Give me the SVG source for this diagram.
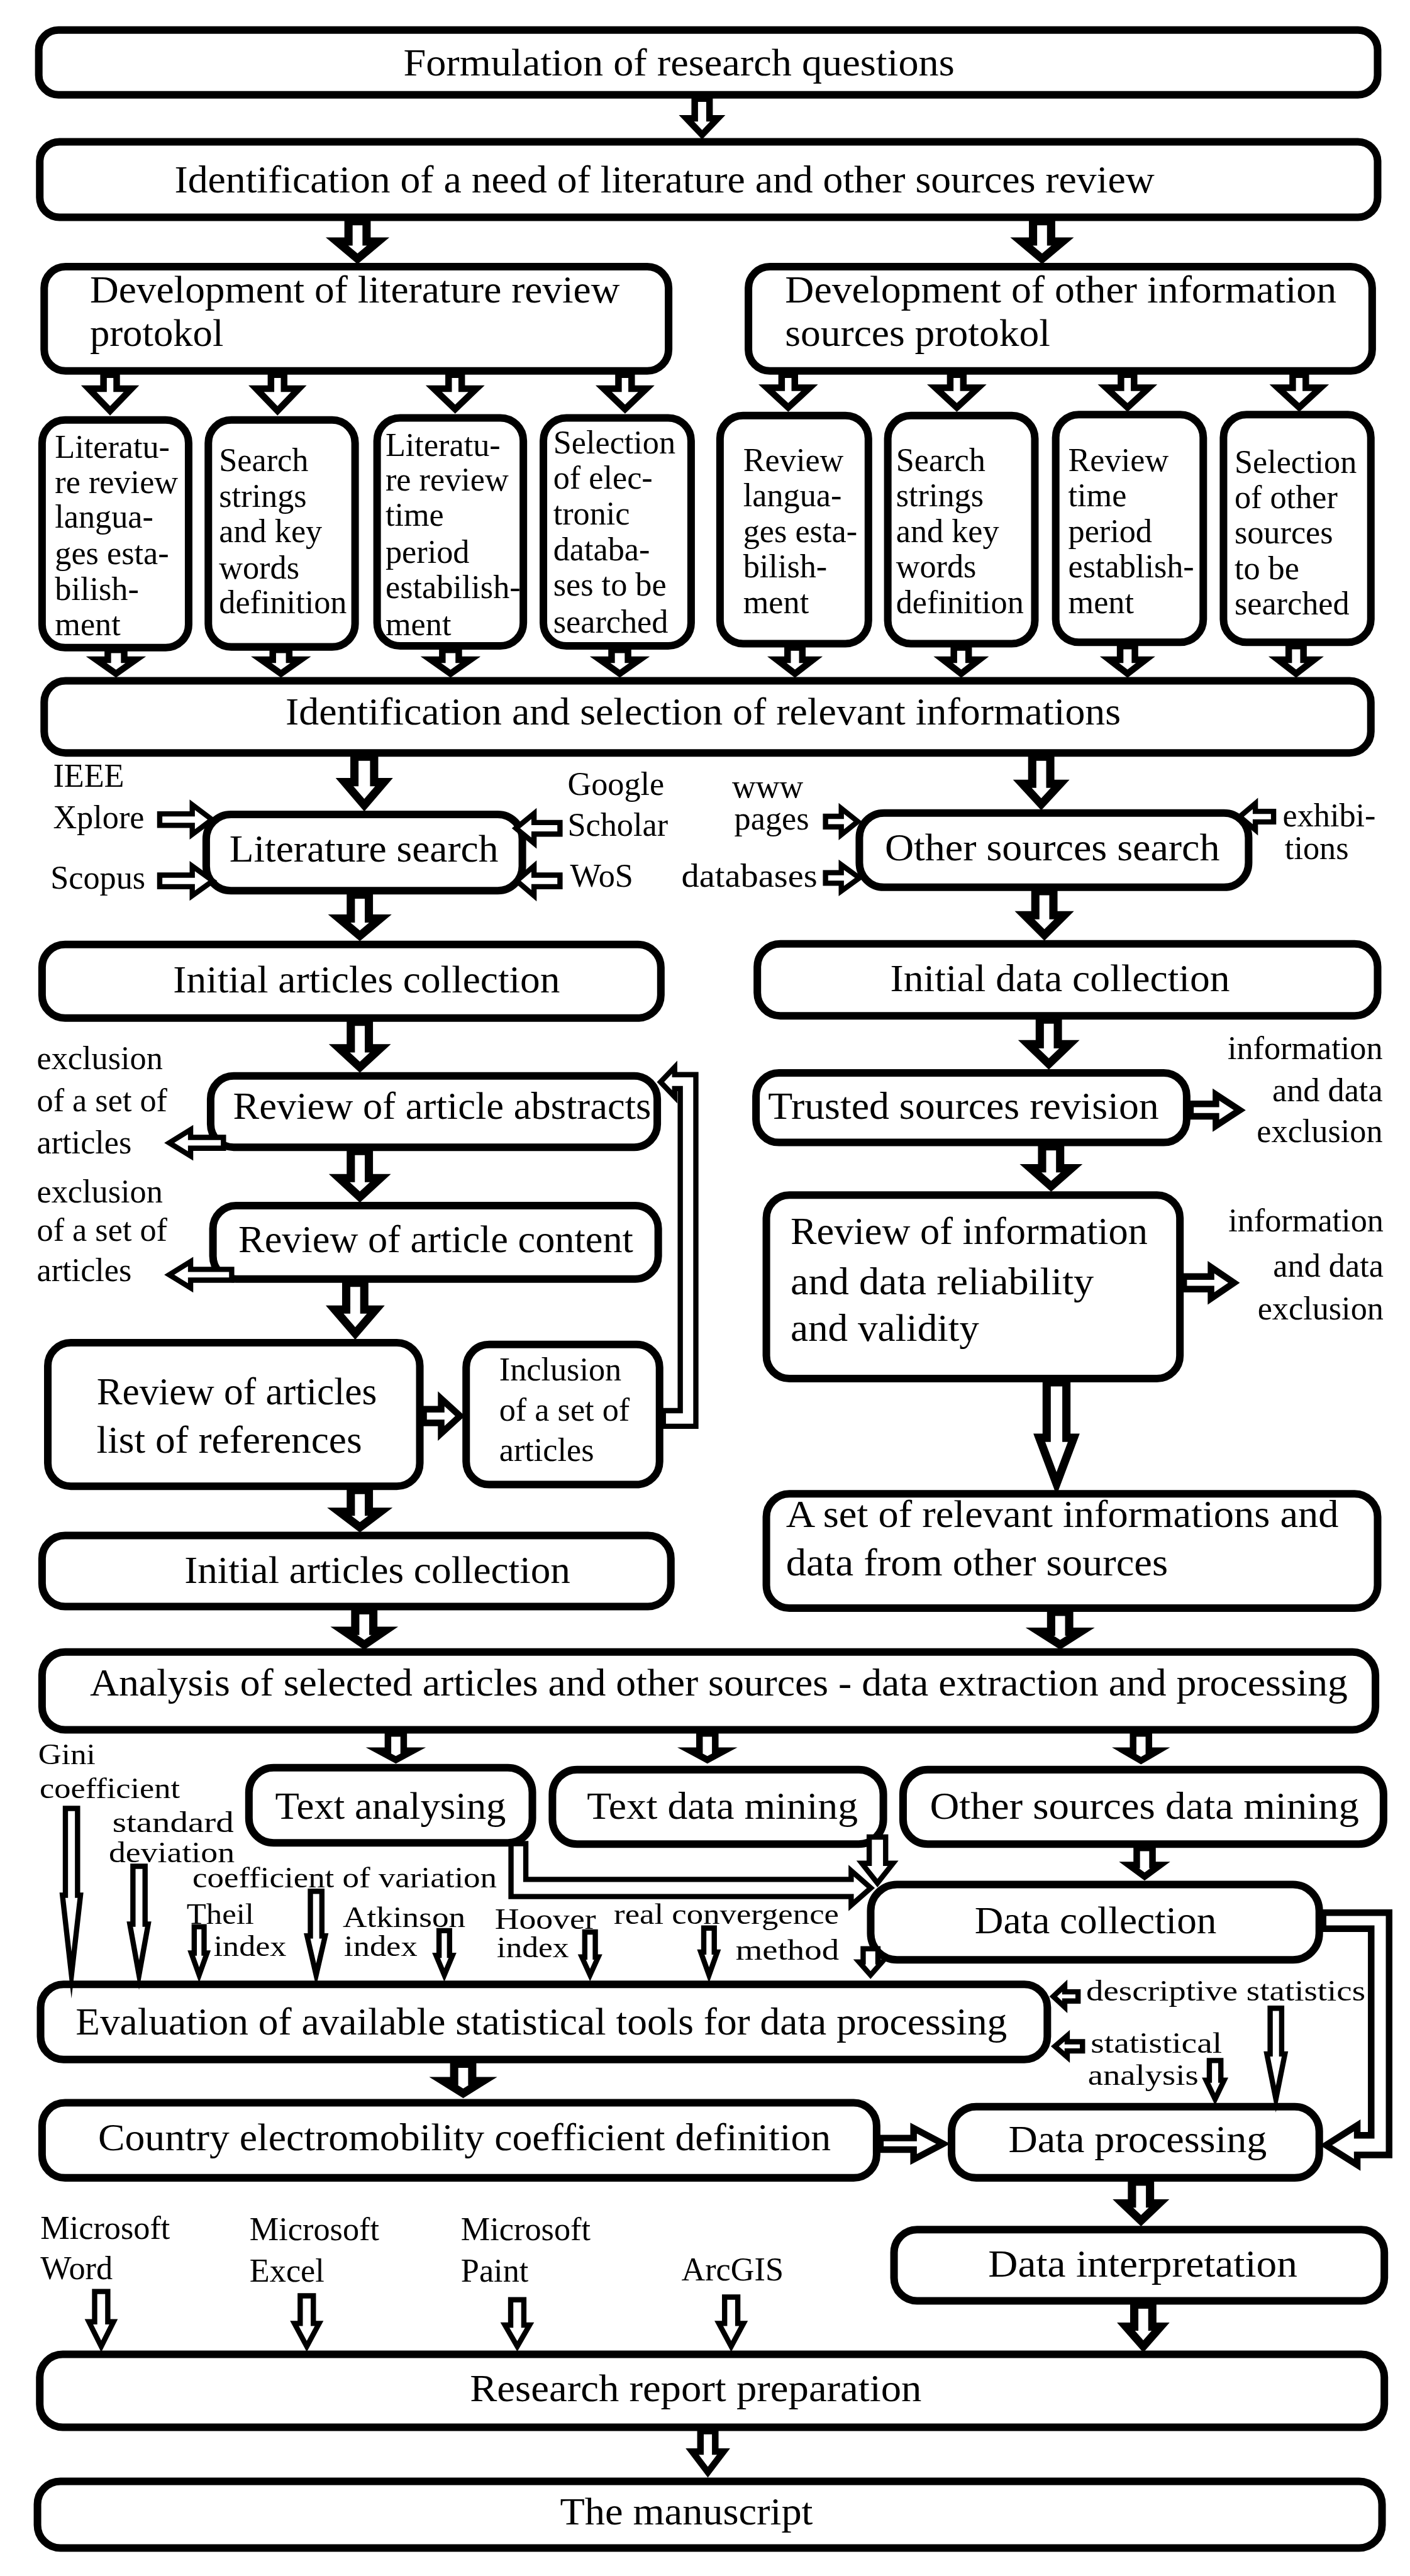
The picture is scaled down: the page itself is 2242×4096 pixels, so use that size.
<svg xmlns="http://www.w3.org/2000/svg" width="2242" height="4096" viewBox="0 0 2242 4096">
<style>
.box{fill:#fff;stroke:#000;stroke-width:4.6}
.a5{fill:#fff;stroke:#000;stroke-width:5;stroke-linejoin:miter;stroke-miterlimit:10}
.a4{fill:#fff;stroke:#000;stroke-width:4;stroke-linejoin:miter;stroke-miterlimit:10}
.a3{fill:#fff;stroke:#000;stroke-width:3.2;stroke-linejoin:miter;stroke-miterlimit:10}
text{font-family:'Liberation Serif','Times New Roman',serif;fill:#000}
.t{font-size:23.5px}
.s{font-size:20px}
.m{font-size:18px}
</style>
<rect width="2242" height="4096" fill="#fff"/>
<g transform="scale(2.6127)">
<g id="nodes">
<g id="n-formulation"><rect class="box" x="23.6" y="18.3" width="814.8" height="39.4" rx="12"/><text class="t" x="245.5" y="45.9" textLength="335.4" lengthAdjust="spacingAndGlyphs">Formulation of research questions</text></g>
<g id="n-identification"><rect class="box" x="24.2" y="86.3" width="814.2" height="45.9" rx="12"/><text class="t" x="106.2" y="117.3" textLength="596.4" lengthAdjust="spacingAndGlyphs">Identification of a need of literature and other sources review</text></g>
<g id="n-dev-lit"><rect class="box" x="26.9" y="162.3" width="380" height="63.4" rx="13"/><text class="t" x="54.7" y="184" textLength="322.5" lengthAdjust="spacingAndGlyphs">Development of literature review</text><text class="t" x="54.7" y="210.6" textLength="81.3" lengthAdjust="spacingAndGlyphs">protokol</text></g>
<g id="n-dev-other"><rect class="box" x="455.5" y="162.3" width="379.6" height="63.4" rx="13"/><text class="t" x="477.8" y="184" textLength="335.6" lengthAdjust="spacingAndGlyphs">Development of other information</text><text class="t" x="477.8" y="210.6" textLength="161.3" lengthAdjust="spacingAndGlyphs">sources protokol</text></g>
<g id="n-d1"><rect class="box" x="25.6" y="255.6" width="89.2" height="138.5" rx="14"/><text class="s" x="33.4"><tspan x="33.4" y="278.6">Literatu-</tspan><tspan x="33.4" y="300">re review</tspan><tspan x="33.4" y="321.3">langua-</tspan><tspan x="33.4" y="343.4">ges esta-</tspan><tspan x="33.4" y="365.2">bilish-</tspan><tspan x="33.4" y="386.6">ment</tspan></text></g>
<g id="n-d2"><rect class="box" x="126.8" y="255.6" width="89.3" height="138.1" rx="14"/><text class="s"><tspan x="133.3" y="286.6">Search</tspan><tspan x="133.3" y="308.5">strings</tspan><tspan x="133.3" y="330">and key</tspan><tspan x="133.3" y="352">words</tspan><tspan x="133.3" y="373.2">definition</tspan></text></g>
<g id="n-d3"><rect class="box" x="229.5" y="254.3" width="89" height="138.8" rx="14"/><text class="s"><tspan x="234.6" y="277.3">Literatu-</tspan><tspan x="234.6" y="298.6">re review</tspan><tspan x="234.6" y="320">time</tspan><tspan x="234.6" y="342.6">period</tspan><tspan x="234.6" y="364">estabilish-</tspan><tspan x="234.6" y="386.6">ment</tspan></text></g>
<g id="n-d4"><rect class="box" x="330.7" y="254.3" width="89.9" height="138.8" rx="14"/><text class="s"><tspan x="336.7" y="276">Selection</tspan><tspan x="336.7" y="297.3">of elec-</tspan><tspan x="336.7" y="319.4">tronic</tspan><tspan x="336.7" y="341.2">databa-</tspan><tspan x="336.7" y="362.6">ses to be</tspan><tspan x="336.7" y="385.2">searched</tspan></text></g>
<g id="n-d5"><rect class="box" x="438.2" y="252.9" width="90.3" height="138.8" rx="14"/><text class="s"><tspan x="452.3" y="286.6">Review</tspan><tspan x="452.3" y="308">langua-</tspan><tspan x="452.3" y="329.8">ges esta-</tspan><tspan x="452.3" y="351.4">bilish-</tspan><tspan x="452.3" y="373.2">ment</tspan></text></g>
<g id="n-d6"><rect class="box" x="540.3" y="252.9" width="89.5" height="138.8" rx="14"/><text class="s"><tspan x="545.3" y="286.6">Search</tspan><tspan x="545.3" y="308">strings</tspan><tspan x="545.3" y="329.8">and key</tspan><tspan x="545.3" y="351.4">words</tspan><tspan x="545.3" y="373.2">definition</tspan></text></g>
<g id="n-d7"><rect class="box" x="642.5" y="252.3" width="89.8" height="138.6" rx="14"/><text class="s"><tspan x="650.1" y="286.6">Review</tspan><tspan x="650.1" y="308">time</tspan><tspan x="650.1" y="329.8">period</tspan><tspan x="650.1" y="351.4">establish-</tspan><tspan x="650.1" y="373.2">ment</tspan></text></g>
<g id="n-d8"><rect class="box" x="744.6" y="252.3" width="89.7" height="138.6" rx="14"/><text class="s"><tspan x="751.3" y="288">Selection</tspan><tspan x="751.3" y="309.3">of other</tspan><tspan x="751.3" y="330.6">sources</tspan><tspan x="751.3" y="352.5">to be</tspan><tspan x="751.3" y="373.8">searched</tspan></text></g>
<g id="n-ident-select"><rect class="box" x="26.9" y="414.3" width="807.4" height="43.9" rx="13"/><text class="t" x="173.8" y="441" textLength="508.3" lengthAdjust="spacingAndGlyphs">Identification and selection of relevant informations</text></g>
<g id="n-lit-search"><rect class="box" x="125.5" y="495.7" width="192.4" height="46.4" rx="15"/><text class="t" x="139.6" y="524.5" textLength="163.7" lengthAdjust="spacingAndGlyphs">Literature search</text></g>
<g id="n-other-search"><rect class="box" x="523" y="494.8" width="236.9" height="45.2" rx="15"/><text class="t" x="538.5" y="523.6" textLength="203.8" lengthAdjust="spacingAndGlyphs">Other sources search</text></g>
<g id="n-init-art1"><rect class="box" x="25.6" y="574.8" width="376.6" height="44.8" rx="14"/><text class="t" x="105.4" y="604.1" textLength="235.4" lengthAdjust="spacingAndGlyphs">Initial articles collection</text></g>
<g id="n-init-data"><rect class="box" x="460.9" y="574.4" width="377.5" height="43.8" rx="14"/><text class="t" x="541.8" y="603.1" textLength="206.7" lengthAdjust="spacingAndGlyphs">Initial data collection</text></g>
<g id="n-abstracts"><rect class="box" x="128.2" y="654.8" width="271.8" height="43.4" rx="14"/><text class="t" x="141.8" y="680.9" textLength="254.5" lengthAdjust="spacingAndGlyphs">Review of article abstracts</text></g>
<g id="n-trusted"><rect class="box" x="460.1" y="653" width="262.1" height="42.3" rx="14"/><text class="t" x="467.4" y="680.9" textLength="237.9" lengthAdjust="spacingAndGlyphs">Trusted sources revision</text></g>
<g id="n-content"><rect class="box" x="129.6" y="733.7" width="271" height="44.7" rx="14"/><text class="t" x="145.1" y="762.1" textLength="240.3" lengthAdjust="spacingAndGlyphs">Review of article content</text></g>
<g id="n-review-info"><rect class="box" x="466.4" y="727.3" width="251.7" height="111.7" rx="14"/><text class="t" x="481.1" y="757.2" textLength="217.4" lengthAdjust="spacingAndGlyphs">Review of information</text><text class="t" x="481.1" y="787.5" textLength="184.6" lengthAdjust="spacingAndGlyphs">and data reliability</text><text class="t" x="481.1" y="815.9" textLength="114.8" lengthAdjust="spacingAndGlyphs">and validity</text></g>
<g id="n-list-refs"><rect class="box" x="29.1" y="817.2" width="226.4" height="87.3" rx="14"/><text class="t" x="58.8" y="854.6" textLength="170.6" lengthAdjust="spacingAndGlyphs">Review of articles</text><text class="t" x="58.8" y="884.3" textLength="161.5" lengthAdjust="spacingAndGlyphs">list of references</text></g>
<g id="n-inclusion"><rect class="box" x="283.7" y="818.2" width="117.7" height="85.3" rx="14"/><text class="s"><tspan x="303.8" y="840.3">Inclusion</tspan><tspan x="303.8" y="864.7">of a set of</tspan><tspan x="303.8" y="889.2">articles</tspan></text></g>
<g id="n-init-art2"><rect class="box" x="25.6" y="934.5" width="382.7" height="43.2" rx="14"/><text class="t" x="112.2" y="963.5" textLength="234.9" lengthAdjust="spacingAndGlyphs">Initial articles collection</text></g>
<g id="n-aset"><rect class="box" x="466.4" y="909.1" width="372" height="69.6" rx="14"/><text class="t" x="478.3" y="929.3" textLength="336.4" lengthAdjust="spacingAndGlyphs">A set of relevant informations and</text><text class="t" x="478.3" y="958.6" textLength="232.5" lengthAdjust="spacingAndGlyphs">data from other sources</text></g>
<g id="n-analysis"><rect class="box" x="25.6" y="1005.4" width="811.5" height="47.3" rx="14"/><text class="t" x="54.7" y="1031.9" textLength="765.5" lengthAdjust="spacingAndGlyphs">Analysis of selected articles and other sources - data extraction and processing</text></g>
<g id="n-text-anal"><rect class="box" x="151.5" y="1075.8" width="172.5" height="45.7" rx="15"/><text class="t" x="167.5" y="1107" textLength="140.4" lengthAdjust="spacingAndGlyphs">Text analysing</text></g>
<g id="n-text-mining"><rect class="box" x="336.2" y="1077" width="201.4" height="45.3" rx="15"/><text class="t" x="357.2" y="1107" textLength="164.9" lengthAdjust="spacingAndGlyphs">Text data mining</text></g>
<g id="n-other-mining"><rect class="box" x="549.6" y="1077" width="292.4" height="45.3" rx="15"/><text class="t" x="565.9" y="1107" textLength="261.2" lengthAdjust="spacingAndGlyphs">Other sources data mining</text></g>
<g id="n-data-coll"><rect class="box" x="529.9" y="1146.9" width="273" height="45.8" rx="16"/><text class="t" x="593.2" y="1176.6" textLength="147.2" lengthAdjust="spacingAndGlyphs">Data collection</text></g>
<g id="n-eval"><rect class="box" x="24.7" y="1207.7" width="612.7" height="45.7" rx="14"/><text class="t" x="46" y="1238.2" textLength="566.9" lengthAdjust="spacingAndGlyphs">Evaluation of available statistical tools for data processing</text></g>
<g id="n-country"><rect class="box" x="25.6" y="1279.7" width="507.9" height="45.7" rx="14"/><text class="t" x="59.7" y="1308.7" textLength="446" lengthAdjust="spacingAndGlyphs">Country electromobility coefficient definition</text></g>
<g id="n-data-proc"><rect class="box" x="579.1" y="1282.1" width="223.8" height="43.3" rx="15"/><text class="t" x="613.7" y="1309.7" textLength="157.3" lengthAdjust="spacingAndGlyphs">Data processing</text></g>
<g id="n-data-interp"><rect class="box" x="544.1" y="1356.9" width="298.4" height="43.4" rx="14"/><text class="t" x="601.4" y="1385.6" textLength="188.2" lengthAdjust="spacingAndGlyphs">Data interpretation</text></g>
<g id="n-research"><rect class="box" x="24.2" y="1432.8" width="818.3" height="44.4" rx="14"/><text class="t" x="286" y="1461.5" textLength="274.9" lengthAdjust="spacingAndGlyphs">Research report preparation</text></g>
<g id="n-manuscript"><rect class="box" x="22.8" y="1510.1" width="818.3" height="40.6" rx="14"/><text class="t" x="340.8" y="1536.4" textLength="153.9" lengthAdjust="spacingAndGlyphs">The manuscript</text></g>
</g>
<g id="labels">
<text class="s" x="32.3" y="478.7">IEEE</text><text class="s" x="32.3" y="504.1">Xplore</text><text class="s" x="30.7" y="540.9">Scopus</text>
<text class="s" x="345.4" y="483.7">Google</text><text class="s" x="345.4" y="508.5">Scholar</text><text class="s" x="347" y="539.6">WoS</text>
<text class="s" x="445.5" y="485.4">www</text><text class="s" x="446.9" y="505">pages</text><text class="s" x="414.7" y="539.6" textLength="82.8" lengthAdjust="spacingAndGlyphs">databases</text>
<text class="s" x="780.6" y="502.8">exhibi-</text><text class="s" x="781.9" y="522.7">tions</text>
<text class="s" x="22.4" y="650.7">exclusion</text><text class="s" x="22.4" y="676.5">of a set of</text><text class="s" x="22.4" y="702">articles</text>
<text class="s" x="22.4" y="731.8">exclusion</text><text class="s" x="22.4" y="755.2">of a set of</text><text class="s" x="22.4" y="779.7">articles</text>
<text class="s" text-anchor="end" x="841.5" y="644.5">information</text><text class="s" text-anchor="end" x="841.5" y="670.2">and data</text><text class="s" text-anchor="end" x="841.5" y="695.1">exclusion</text>
<text class="s" text-anchor="end" x="842" y="749.4">information</text><text class="s" text-anchor="end" x="842" y="776.8">and data</text><text class="s" text-anchor="end" x="842" y="803.1">exclusion</text>
<text class="m" x="23.3" y="1073.5" textLength="34.8" lengthAdjust="spacingAndGlyphs">Gini</text><text class="m" x="24.1" y="1094.2" textLength="85.4" lengthAdjust="spacingAndGlyphs">coefficient</text>
<text class="m" x="68.4" y="1115" textLength="73.9" lengthAdjust="spacingAndGlyphs">standard</text><text class="m" x="66.2" y="1133.4" textLength="76.6" lengthAdjust="spacingAndGlyphs">deviation</text>
<text class="m" x="117.1" y="1148.6" textLength="185.3" lengthAdjust="spacingAndGlyphs">coefficient of variation</text>
<text class="m" x="113.6" y="1171" textLength="41" lengthAdjust="spacingAndGlyphs">Theil</text><text class="m" x="130" y="1190.2" textLength="44.3" lengthAdjust="spacingAndGlyphs">index</text>
<text class="m" x="208.6" y="1172.6" textLength="74.7" lengthAdjust="spacingAndGlyphs">Atkinson</text><text class="m" x="209.4" y="1190.2" textLength="44.6" lengthAdjust="spacingAndGlyphs">index</text>
<text class="m" x="301.1" y="1173.9" textLength="61.6" lengthAdjust="spacingAndGlyphs">Hoover</text><text class="m" x="302.4" y="1191" textLength="43.8" lengthAdjust="spacingAndGlyphs">index</text>
<text class="m" x="373.6" y="1171" textLength="137" lengthAdjust="spacingAndGlyphs">real convergence</text><text class="m" x="447.7" y="1192.6" textLength="62.9" lengthAdjust="spacingAndGlyphs">method</text>
<text class="m" x="661" y="1217.4" textLength="170" lengthAdjust="spacingAndGlyphs">descriptive statistics</text>
<text class="m" x="663.8" y="1249.3" textLength="79.9" lengthAdjust="spacingAndGlyphs">statistical</text><text class="m" x="662.1" y="1268.8" textLength="67.3" lengthAdjust="spacingAndGlyphs">analysis</text>
<text class="s" x="24.6" y="1362.6">Microsoft</text><text class="s" x="24.6" y="1387.2">Word</text>
<text class="s" x="151.9" y="1363.2">Microsoft</text><text class="s" x="151.9" y="1388.6">Excel</text>
<text class="s" x="280.5" y="1363.2">Microsoft</text><text class="s" x="280.5" y="1388.6">Paint</text>
<text class="s" x="414.7" y="1388">ArcGIS</text>
</g>
<g id="connectors">
<polygon class="a4" points="422.8,60 422.8,72 417.8,72 427.3,82 436.8,72 431.8,72 431.8,60"/>
<polygon class="a5" points="212.1,134.6 212.1,147 205.1,147 217.6,157.5 230.1,147 223.1,147 223.1,134.6"/>
<polygon class="a5" points="628.7,134.6 628.7,147 621.7,147 634.2,157.5 646.7,147 639.7,147 639.7,134.6"/>
<polygon class="a4" points="63,228 63,236.5 54,236.5 67,250 80,236.5 71,236.5 71,228"/>
<polygon class="a4" points="164.9,228 164.9,236.5 155.9,236.5 168.9,250 181.9,236.5 172.9,236.5 172.9,228"/>
<polygon class="a4" points="273,228 273,236.5 264,236.5 277,249 290,236.5 281,236.5 281,228"/>
<polygon class="a4" points="376.4,228 376.4,236.5 367.4,236.5 380.4,249 393.4,236.5 384.4,236.5 384.4,228"/>
<polygon class="a4" points="475.7,228 475.7,236 466.7,236 479.7,248 492.7,236 483.7,236 483.7,228"/>
<polygon class="a4" points="578.3,228 578.3,236 569.3,236 582.3,248 595.3,236 586.3,236 586.3,228"/>
<polygon class="a4" points="682.2,228 682.2,236 673.2,236 686.2,248 699.2,236 690.2,236 690.2,228"/>
<polygon class="a4" points="786.7,228 786.7,236 777.7,236 790.7,248 803.7,236 794.7,236 794.7,228"/>
<polygon class="a4" points="65.6,395.5 65.6,401.5 58.6,401.5 70.6,410 82.6,401.5 75.6,401.5 75.6,395.5"/>
<polygon class="a4" points="166,395.5 166,401.5 159,401.5 171,410 183,401.5 176,401.5 176,395.5"/>
<polygon class="a4" points="269.2,395.5 269.2,401.5 262.2,401.5 274.2,410 286.2,401.5 279.2,401.5 279.2,395.5"/>
<polygon class="a4" points="372.2,395.5 372.2,401.5 365.2,401.5 377.2,410 389.2,401.5 382.2,401.5 382.2,395.5"/>
<polygon class="a4" points="479.3,394 479.3,401.5 472.8,401.5 483.8,410 494.8,401.5 488.3,401.5 488.3,394"/>
<polygon class="a4" points="580.5,394 580.5,401.5 574,401.5 585,410 596,401.5 589.5,401.5 589.5,394"/>
<polygon class="a4" points="681.7,393.2 681.7,401.5 675.2,401.5 686.2,410 697.2,401.5 690.7,401.5 690.7,393.2"/>
<polygon class="a4" points="784.3,393.2 784.3,401.5 777.8,401.5 788.8,410 799.8,401.5 793.3,401.5 793.3,393.2"/>
<polygon class="a5" points="215.7,460.5 215.7,476 209.7,476 221.7,490 233.7,476 227.7,476 227.7,460.5"/>
<polygon class="a5" points="628.2,460.5 628.2,477 622.2,477 633.7,489.5 645.2,477 639.2,477 639.2,460.5"/>
<polygon class="a5" points="213.5,544.4 213.5,559 206.5,559 219,569.5 231.5,559 224.5,559 224.5,544.4"/>
<polygon class="a5" points="630.1,542.3 630.1,557 623.6,557 635.6,569 647.6,557 641.1,557 641.1,542.3"/>
<polygon class="a5" points="213.5,621.9 213.5,638 206.5,638 219,649.5 231.5,638 224.5,638 224.5,621.9"/>
<polygon class="a5" points="632.8,620.5 632.8,635.5 625.8,635.5 638.3,647.5 650.8,635.5 643.8,635.5 643.8,620.5"/>
<polygon class="a5" points="213.5,700.5 213.5,717 206.5,717 219,728.5 231.5,717 224.5,717 224.5,700.5"/>
<polygon class="a5" points="210.7,780.7 210.7,797 203.7,797 216.2,811.5 228.7,797 221.7,797 221.7,780.7"/>
<polygon class="a5" points="213.5,906.8 213.5,920 206.5,920 219,929.5 231.5,920 224.5,920 224.5,906.8"/>
<polygon class="a5" points="216.2,980 216.2,992.5 209.2,992.5 221.7,1001 234.2,992.5 227.2,992.5 227.2,980"/>
<polygon class="a5" points="634.2,697.6 634.2,711 627.2,711 639.7,722 652.2,711 645.2,711 645.2,697.6"/>
<polygon class="a5" points="637,841.3 637,875 632.5,875 643,903 653.5,875 649,875 649,841.3"/>
<polygon class="a5" points="639.7,981 639.7,993 632.7,993 645.2,1001 657.7,993 650.7,993 650.7,981"/>
<polygon class="a4" points="236.1,1055 236.1,1065.5 230.6,1065.5 240.9,1071 251.2,1065.5 245.7,1065.5 245.7,1055"/>
<polygon class="a4" points="425.7,1055 425.7,1065.5 420.2,1065.5 430.5,1071 440.8,1065.5 435.3,1065.5 435.3,1055"/>
<polygon class="a4" points="689.6,1055 689.6,1065.5 684.1,1065.5 694.4,1071.5 704.7,1065.5 699.2,1065.5 699.2,1055"/>
<polygon class="a4" points="691.8,1124.6 691.8,1135 687.1,1135 696.6,1142 706.1,1135 701.4,1135 701.4,1124.6"/>
<polygon class="a5" points="276.4,1256 276.4,1266.5 269.9,1266.5 281.9,1274 293.9,1266.5 287.4,1266.5 287.4,1256"/>
<polygon class="a5" points="688.9,1327.7 688.9,1341 683.4,1341 694.4,1351.5 705.4,1341 699.9,1341 699.9,1327.7"/>
<polygon class="a5" points="690.3,1402.6 690.3,1416 685.3,1416 695.8,1428 706.3,1416 701.3,1416 701.3,1402.6"/>
<polygon class="a4" points="426.3,1479.5 426.3,1492 421.3,1492 430.8,1504.5 440.3,1492 435.3,1492 435.3,1479.5"/>
<polygon class="a3" points="39.8,1100.6 39.8,1153.4 38,1153.4 43.5,1202 49,1153.4 47.2,1153.4 47.2,1100.6"/>
<polygon class="a3" points="80.9,1135.8 80.9,1171 79,1171 84.6,1202 90.2,1171 88.3,1171 88.3,1135.8"/>
<polygon class="a3" points="118.2,1172.6 118.2,1188.6 116.4,1188.6 121.2,1202 126,1188.6 124.2,1188.6 124.2,1172.6"/>
<polygon class="a3" points="188.9,1151 188.9,1178.2 186.9,1178.2 192.4,1202 197.9,1178.2 195.9,1178.2 195.9,1151"/>
<polygon class="a3" points="267.2,1175 267.2,1190 265.4,1190 270.4,1202 275.4,1190 273.6,1190 273.6,1175"/>
<polygon class="a3" points="355.9,1175.8 355.9,1191 354.1,1191 359.1,1202 364.1,1191 362.3,1191 362.3,1175.8"/>
<polygon class="a3" points="428.3,1173.4 428.3,1188 426.5,1188 431.5,1202 436.5,1188 434.7,1188 434.7,1173.4"/>
<polygon class="a3" points="525.3,1186 525.3,1194 522.8,1194 529.8,1202 536.8,1194 534.3,1194 534.3,1186"/>
<polygon class="a3" points="773,1222.2 773,1250 771,1250 776.5,1277.5 782,1250 780,1250 780,1222.2"/>
<polygon class="a3" points="736,1254 736,1266 734,1266 739.5,1277.5 745,1266 743,1266 743,1254"/>
<polygon class="a3" points="57.6,1394.6 57.6,1413 54.1,1413 61.6,1428 69.1,1413 65.6,1413 65.6,1394.6"/>
<polygon class="a3" points="182.7,1397.2 182.7,1414 179.2,1414 186.7,1428 194.2,1414 190.7,1414 190.7,1397.2"/>
<polygon class="a3" points="310.8,1399.6 310.8,1415 307.3,1415 314.8,1428 322.3,1415 318.8,1415 318.8,1399.6"/>
<polygon class="a3" points="441,1398 441,1414 437.5,1414 445,1428 452.5,1414 449,1414 449,1398"/>
<polygon class="a3" points="97.2,495.3 117,495.3 117,489.8 129,498.8 117,507.8 117,502.3 97.2,502.3"/>
<polygon class="a3" points="97.2,532.6 117,532.6 117,527.1 129.5,536.1 117,545.1 117,539.6 97.2,539.6"/>
<polygon class="a3" points="340.8,500.6 325,500.6 325,495.1 314,504.1 325,513.1 325,507.6 340.8,507.6"/>
<polygon class="a3" points="340.8,532.6 325,532.6 325,527.1 314.5,536.1 325,545.1 325,539.6 340.8,539.6"/>
<polygon class="a3" points="502.4,496.8 512,496.8 512,492 522,500 512,508 512,503.2 502.4,503.2"/>
<polygon class="a3" points="502.4,531.1 512,531.1 512,526.3 523,534.3 512,542.3 512,537.5 502.4,537.5"/>
<polygon class="a3" points="775.1,493.8 764,493.8 764,489 754.5,497 764,505 764,500.2 775.1,500.2"/>
<polygon class="a4" points="724.5,671.8 740,671.8 740,666.1 754.5,675.6 740,685.1 740,679.4 724.5,679.4"/>
<polygon class="a4" points="720.4,776.9 737,776.9 737,771.2 751,780.7 737,790.2 737,784.5 720.4,784.5"/>
<polygon class="a4" points="257.8,857.6 268.5,857.6 268.5,851.3 280,861.8 268.5,872.3 268.5,866 257.8,866"/>
<polygon class="a3" points="136,692.2 116,692.2 116,687.5 103,695.5 116,703.5 116,698.8 136,698.8"/>
<polygon class="a3" points="141,772.5 116,772.5 116,767.8 103,775.8 116,783.8 116,779.1 141,779.1"/>
<polygon class="a3" points="656.1,1212.2 648,1212.2 648,1208.5 641,1215 648,1221.5 648,1217.8 656.1,1217.8"/>
<polygon class="a3" points="658.8,1242.6 649.5,1242.6 649.5,1238.9 642,1245.4 649.5,1251.9 649.5,1248.2 658.8,1248.2"/>
<polygon class="a4" points="535.8,1301.2 556,1301.2 556,1295.2 574,1304.7 556,1314.2 556,1308.2 535.8,1308.2"/>
<polygon class="a3" points="403.7,858.5 414,858.5 414,662.5 410.6,662.5 410.6,667.5 402,658.5 410.6,649.5 410.6,654 423.5,654 423.5,868 403.7,868"/>
<polygon class="a3" points="311,1122 311,1154.2 518,1154.2 518,1159.5 530,1149 518,1138.5 518,1143.8 320,1143.8 320,1122"/>
<polygon class="a3" points="529,1118 529,1134 524.5,1134 534,1146 543.5,1134 539,1134 539,1118"/>
<polygon class="a4" points="805.2,1164 845.4,1164 845.4,1311.5 826,1311.5 826,1317.5 807,1305.5 826,1293.5 826,1299.5 834.5,1299.5 834.5,1173.8 805.2,1173.8"/>
</g>
</g>
</svg>
